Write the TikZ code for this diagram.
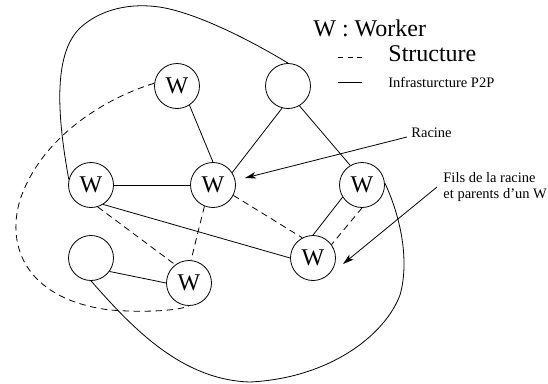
\documentclass[tikz,border=0pt]{standalone}
\usepackage{fontspec}
\setmainfont{Liberation Serif}
\usetikzlibrary{arrows.meta}

\begin{document}
\begin{tikzpicture}[
  x=1pt, y=-1pt,
  line width=0.8pt,
  wnode/.style={circle, draw, minimum size=45pt, inner sep=0pt,
                font=\fontsize{24}{26}\selectfont},
  p2p/.style={draw},
  struct/.style={draw, dash pattern=on 6.5pt off 4.5pt},
  lbl/.style={inner sep=0pt, anchor=base west},
  pointer/.style={-{Stealth[length=11pt,width=6.5pt,inset=3pt]}}
]
\useasboundingbox (0,0) rectangle (548,383);

% peers
\node[wnode] (tW)  at (177,86)  {W};
\node[wnode] (tR)  at (288,86)  {};
\node[wnode] (lW)  at (91,185)  {W};
\node[wnode] (cW)  at (213,185) {W};
\node[wnode] (rW)  at (362,185) {W};
\node[wnode] (lrW) at (313,258) {W};
\node[wnode] (bL)  at (91,258)  {};
\node[wnode] (bW)  at (189,283) {W};

% P2P infrastructure links
\draw[p2p] (tW.-57)   -- (cW.north);
\draw[p2p] (tR.-105)  -- (cW.33);
\draw[p2p] (tR.-60)   -- (rW.121);
\draw[p2p] (lW)       -- (cW);
\draw[p2p] (lW.-58)   -- (lrW.west);
\draw[p2p] (rW.212)   -- (lrW.90);
\draw[p2p] (bL.-36)   -- (bW.west);

% long P2P links around the network
\draw[p2p] (lW.166) .. controls (58,120) and (52,55) .. (80,28)
   .. controls (105,5) and (140,3) .. (165,8)
   .. controls (200,15) and (250,40) .. (tR.north);
\draw[p2p] (rW.5) .. controls (400,215) and (410,260) .. (400,295)
   .. controls (385,335) and (330,378) .. (250,382)
   .. controls (180,380) and (130,325) .. (bL.south);

% structure links
\draw[struct] (cW.-27)  -- (lrW.118);
\draw[struct] (rW.270)  -- (lrW.36);
\draw[struct] (lW.-73)  -- (bW.127);
\draw[struct] (cW.-112) -- (bW.85);
\draw[struct] (tW.173) .. controls (100,100) and (40,140) .. (20,200)
   .. controls (5,250) and (30,300) .. (110,310)
   .. controls (150,313) and (180,310) .. (bW.south);

% legend
\node[lbl, font=\fontsize{24}{28}\selectfont] (legW) at (313,36) {W : Worker};
\node[lbl, font=\fontsize{24}{28}\selectfont] (legS) at (388,61) {Structure};
\node[lbl, font=\fontsize{14.5}{16}\selectfont] (legI) at (388,87) {Infrasturcture P2P};
\draw[dash pattern=on 5pt off 4.5pt] (338,57) -- (362,57);
\draw (338,82) -- (362,82);

% annotations
\node[lbl, font=\fontsize{14.5}{16}\selectfont] (racine) at (411,137) {Racine};
\node[lbl, align=left, font=\fontsize{14.5}{16}\selectfont] (fils) at (443,198)
  {Fils de la racine\\et parents d'un W};
\coordinate (racineTip) at (245,178);
\coordinate (filsTail) at (437,187);
\coordinate (filsTip) at (343,264);
\draw[pointer] ([xshift=-4pt]racine.base west) -- (racineTip);
\draw[pointer] (filsTail) -- (filsTip);
\end{tikzpicture}
\end{document}
